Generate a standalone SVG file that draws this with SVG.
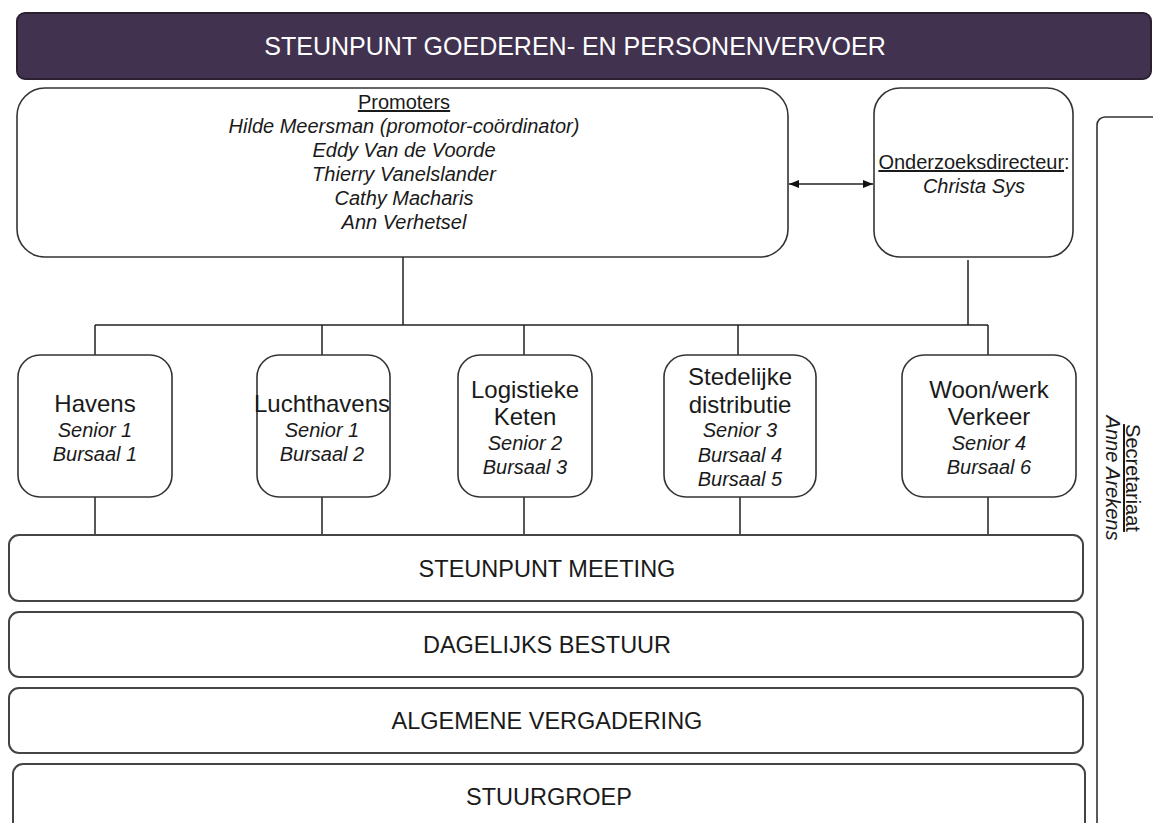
<svg xmlns="http://www.w3.org/2000/svg" width="1153" height="823" viewBox="0 0 1153 823">
<defs>
<marker id="ah" viewBox="0 0 10 10" refX="10" refY="5" markerWidth="10" markerHeight="10" markerUnits="userSpaceOnUse" orient="auto-start-reverse">
<path d="M0,1 L10,5 L0,9 z" fill="#111"/>
</marker>
<style>
.box{fill:#fff;stroke:#333;stroke-width:1.6}
.bar{fill:#fff;stroke:#444;stroke-width:2}
.t{font-family:Arial,"Liberation Sans",sans-serif;fill:#1a1a1a;text-anchor:middle}
.n{font-size:24px}
.i{font-size:20px;font-style:italic}
.h{font-size:20px}
.b{font-size:23.5px}
.u{text-decoration:underline}
.c{fill:none;stroke:#222;stroke-width:1.5}
</style>
</defs>
<rect width="1153" height="823" fill="#fff"/>

<g id="title">
<rect x="17" y="13" width="1134" height="66" rx="8" fill="#413250" stroke="#2a2030" stroke-width="2"/>
<text class="t" x="575" y="55" style="fill:#fff;font-size:25px">STEUNPUNT GOEDEREN- EN PERSONENVERVOER</text>
</g>

<g id="secretariaat">
<rect class="box" x="1097" y="117" width="80" height="740" rx="8"/>
<text class="t h" transform="translate(1126,478) rotate(90)" x="0" y="0"><tspan class="u">Secretariaat</tspan></text>
<text class="t i" transform="translate(1106,478) rotate(90)" x="0" y="0">Anne Arekens</text>
</g>

<g id="connectors">
<path class="c" d="M403,257 V325 M968,260 V325 M95,325 H988 M95,325 V355 M322,325 V355 M524,325 V355 M738,325 V355 M988,325 V355"/>
<path class="c" d="M95,497 V535 M322,497 V535 M524,497 V535 M740,497 V535 M988,497 V535"/>
<line class="c" x1="789" y1="184" x2="873" y2="184" marker-start="url(#ah)" marker-end="url(#ah)"/>
</g>

<g id="promoters">
<rect class="box" x="17" y="88" width="771" height="169" rx="28"/>
<text class="t h" x="404" y="109"><tspan class="u">Promoters</tspan></text>
<text class="t i" x="404" y="133">Hilde Meersman (promotor-coördinator)</text>
<text class="t i" x="404" y="157">Eddy Van de Voorde</text>
<text class="t i" x="404" y="181">Thierry Vanelslander</text>
<text class="t i" x="404" y="205">Cathy Macharis</text>
<text class="t i" x="404" y="229">Ann Verhetsel</text>
</g>

<g id="onderzoeksdirecteur">
<rect class="box" x="874" y="88" width="199" height="169" rx="26"/>
<text class="t h" x="974" y="169"><tspan class="u">Onderzoeksdirecteur</tspan>:</text>
<text class="t i" x="974" y="193">Christa Sys</text>
</g>

<g id="havens">
<rect class="box" x="18" y="355" width="154" height="142" rx="22"/>
<text class="t n" x="95" y="412">Havens</text>
<text class="t i" x="95" y="437">Senior 1</text>
<text class="t i" x="95" y="461">Bursaal 1</text>
</g>

<g id="luchthavens">
<rect class="box" x="257" y="355" width="133" height="142" rx="22"/>
<text class="t n" x="322" y="412">Luchthavens</text>
<text class="t i" x="322" y="437">Senior 1</text>
<text class="t i" x="322" y="461">Bursaal 2</text>
</g>

<g id="logistieke">
<rect class="box" x="458" y="355" width="134" height="142" rx="22"/>
<text class="t n" x="525" y="398">Logistieke</text>
<text class="t n" x="525" y="425">Keten</text>
<text class="t i" x="525" y="450">Senior 2</text>
<text class="t i" x="525" y="474">Bursaal 3</text>
</g>

<g id="stedelijke">
<rect class="box" x="664" y="355" width="152" height="142" rx="22"/>
<text class="t n" x="740" y="385">Stedelijke</text>
<text class="t n" x="740" y="413">distributie</text>
<text class="t i" x="740" y="437">Senior 3</text>
<text class="t i" x="740" y="462">Bursaal 4</text>
<text class="t i" x="740" y="486">Bursaal 5</text>
</g>

<g id="woonwerk">
<rect class="box" x="902" y="355" width="174" height="142" rx="22"/>
<text class="t n" x="989" y="398">Woon/werk</text>
<text class="t n" x="989" y="425">Verkeer</text>
<text class="t i" x="989" y="450">Senior 4</text>
<text class="t i" x="989" y="474">Bursaal 6</text>
</g>

<g id="meeting">
<rect class="bar" x="9" y="535" width="1074" height="66" rx="10"/>
<text class="t b" x="547" y="577">STEUNPUNT MEETING</text>
</g>

<g id="dagelijks">
<rect class="bar" x="9" y="612" width="1074" height="65" rx="10"/>
<text class="t b" x="547" y="653">DAGELIJKS BESTUUR</text>
</g>

<g id="algemene">
<rect class="bar" x="9" y="688" width="1074" height="65" rx="10"/>
<text class="t b" x="547" y="729">ALGEMENE VERGADERING</text>
</g>

<g id="stuurgroep">
<rect class="bar" x="13" y="764" width="1072" height="80" rx="10"/>
<text class="t b" x="549" y="805">STUURGROEP</text>
</g>
</svg>
